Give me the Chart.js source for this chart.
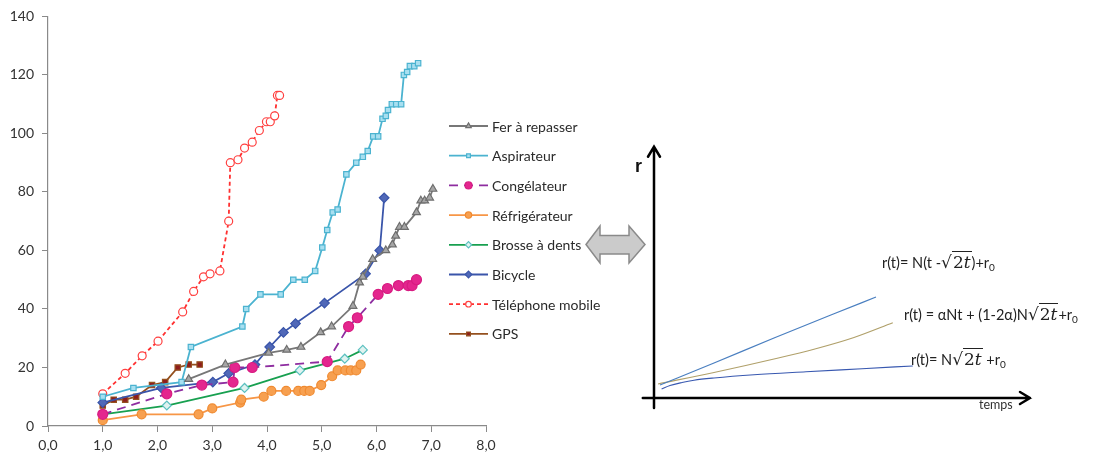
<!DOCTYPE html>
<html>
<head>
<meta charset="utf-8">
<script src="https://cdn.jsdelivr.net/npm/chart.js@4.4.1/dist/chart.umd.min.js"></script>
<style>
  body { margin:0; background:#fff; width:1093px; height:457px; overflow:hidden; position:relative; font-family:Lato, sans-serif; }
  #wl { position:absolute; left:0; top:0; width:620px; height:457px; }
  #wr { position:absolute; left:580px; top:140px; width:513px; height:280px; }
  .f { position:absolute; font-size:14.5px; color:#222; white-space:nowrap; line-height:18px; }
  .sq { font-family:"DejaVu Serif", serif; font-size:17px; }
  .ov { border-top:1.4px solid #222; font-family:"DejaVu Serif", serif; font-size:17px; padding:0 1px; }
  .ov i { font-style:italic; }
  sub { font-size:10px; vertical-align:-3px; }
  #rl { position:absolute; left:635px; top:156px; font:bold 18px "Liberation Sans", Arial, sans-serif; color:#111; }
  #tl { position:absolute; left:979px; top:397px; font-size:12.5px; color:#333; }
</style>
</head>
<body>
<div id="wl"><canvas id="c1"></canvas></div>
<div id="wr"><canvas id="c2"></canvas></div>
<div id="rl">r</div>
<div id="tl">temps</div>
<div class="f" style="left:882px;top:253px">r(t)= N(t -<span class="sq">√</span><span class="ov">2<i>t</i></span>)+r<sub>0</sub></div>
<div class="f" style="left:904px;top:305px">r(t) = αNt + (1-2α)N<span class="sq">√</span><span class="ov">2<i>t</i></span>+r<sub>0</sub></div>
<div class="f" style="left:911px;top:350px">r(t)= N<span class="sq">√</span><span class="ov">2<i>t</i></span> +r<sub>0</sub></div>
<script>
// series names (legend order)
const names = ['Fer à repasser','Aspirateur','Congélateur','Réfrigérateur','Brosse à dents','Bicycle','Téléphone mobile','GPS'];

// [x, y]
const fer = [[2.57,16],[3.24,21],[4.03,25],[4.36,26],[4.62,27],[4.98,32],[5.18,34],[5.57,41],[5.69,49],[5.75,51],[5.93,57],[6.17,60],[6.29,62],[6.35,65],[6.42,68],[6.51,68],[6.73,73],[6.81,77],[6.88,77],[6.97,78],[7.03,81]];
const aspirateur = [[1.0,10],[1.56,13],[2.44,15],[2.61,27],[3.55,34],[3.62,40],[3.88,45],[4.25,45],[4.48,50],[4.69,50],[4.88,53],[5.01,61],[5.10,67],[5.20,73],[5.29,74],[5.45,86],[5.63,90],[5.75,92],[5.84,94],[5.94,99],[6.03,99],[6.11,105],[6.17,106],[6.21,108],[6.28,110],[6.36,110],[6.45,110],[6.50,120],[6.56,121],[6.61,123],[6.69,123],[6.76,124]];
const congelateur = [[1.0,4],[2.17,11],[2.81,14],[3.38,15],[3.41,20],[3.73,20],[5.10,22],[5.49,34],[5.65,37],[6.03,45],[6.20,47],[6.40,48],[6.58,48],[6.65,48],[6.73,50]];
const refrigerateur = [[1.0,2],[1.71,4],[2.75,4],[3.0,6],[3.51,8],[3.53,9],[3.94,10],[4.08,12],[4.35,12],[4.57,12],[4.68,12],[4.78,12],[4.99,14],[5.19,17],[5.29,19],[5.43,19],[5.53,19],[5.63,19],[5.71,21]];
const brosse = [[1.0,4],[2.17,7],[3.59,13],[4.60,19],[5.42,23],[5.75,26]];
const bicycle = [[1.0,8],[2.07,13],[3.01,15],[3.30,18],[3.78,21],[4.05,27],[4.30,32],[4.52,35],[5.05,42],[5.80,52],[6.06,60],[6.14,78]];
const telephone = [[1.0,11],[1.41,18],[1.72,24],[2.01,29],[2.46,39],[2.66,46],[2.84,51],[2.96,52],[3.14,53],[3.30,70],[3.33,90],[3.47,91],[3.59,95],[3.73,97],[3.86,101],[3.99,104],[4.06,104],[4.14,106],[4.19,113],[4.23,113]];
const gps = [[1.0,7],[1.20,9],[1.41,9],[1.61,10],[1.90,14],[2.14,15],[2.37,20],[2.57,21],[2.77,21]];

// right sketch: curves (t, r)
const curveLin = [[0.15,0.52],[1.5,1.4],[3.0,2.4],[4.5,3.37],[5.55,4.04]];
const curveMix = [[0.1,0.56],[1.5,1.02],[3.0,1.56],[4.0,1.95],[5.0,2.42],[5.97,3.01]];
const curveSqrt = [[0.19,0.36],[0.4,0.5],[0.7,0.62],[1.0,0.71],[1.5,0.8],[2.5,0.93],[3.8,1.05],[5.2,1.17],[6.47,1.28]];

const pts = a => a.map(p => ({x:p[0], y:p[1]}));

function ser(label, data, line, fill, stroke, style, r, dash) {
  return {
    label, data: pts(data), showLine:true, tension:0,
    borderColor:line, borderWidth:1.8, borderDash:dash || [],
    pointStyle:style, pointRadius:r, pointBackgroundColor:fill,
    pointBorderColor:stroke, pointBorderWidth:1.2
  };
}

const sets = [
  ser(names[0], fer, '#777777', '#a6a6a6', '#6e6e6e', 'triangle', 4.5),
  ser(names[1], aspirateur, '#4bb3d0', '#a8dff0', '#4bb3d0', 'rect', 3.8),
  ser(names[2], congelateur, '#8e2da0', '#e4268e', '#d81c82', 'circle', 5, [9,6]),
  ser(names[3], refrigerateur, '#f79646', '#f7a050', '#f08a30', 'circle', 4.5),
  ser(names[4], brosse, '#18a050', '#dff3f0', '#5cc0c0', 'rectRot', 4.5),
  ser(names[5], bicycle, '#3a55aa', '#5068b8', '#3a55aa', 'rectRot', 4.8),
  ser(names[6], telephone, '#ff3030', '#ffffff', '#ff4040', 'circle', 4, [4,3]),
  ser(names[7], gps, '#94501e', '#8e1c1c', '#94501e', 'rect', 3.8)
];

const sideLegend = {
  id:'sideLegend',
  afterDraw(chart) {
    const ctx = chart.ctx;
    chart.data.datasets.forEach((ds, i) => {
      const y = 126 + i * 29.7;
      ctx.save();
      ctx.strokeStyle = ds.borderColor;
      ctx.lineWidth = ds.borderWidth;
      ctx.setLineDash(ds.borderDash);
      ctx.beginPath(); ctx.moveTo(449, y); ctx.lineTo(488, y); ctx.stroke();
      ctx.setLineDash([]);
      ctx.fillStyle = ds.pointBackgroundColor;
      ctx.strokeStyle = ds.pointBorderColor;
      ctx.lineWidth = 1.2;
      Chart.helpers.drawPoint(ctx, {pointStyle:ds.pointStyle, radius:ds.pointRadius * 0.7, borderWidth:1.2, rotation:0}, 468.5, y);
      ctx.fillStyle = '#2a2a2a';
      ctx.font = '14px Lato';
      ctx.textBaseline = 'middle';
      ctx.fillText(ds.label, 492, y + 1);
      ctx.restore();
    });
  }
};

new Chart(document.getElementById('c1'), {
  type:'scatter',
  data:{ datasets:sets },
  options:{
    responsive:true, maintainAspectRatio:false, animation:false,
    layout:{ padding:{ top:14, right:134, bottom:0, left:0 } },
    plugins:{ legend:{display:false}, tooltip:{enabled:false} },
    scales:{
      x:{
        min:0, max:8,
        ticks:{ stepSize:1, color:'#333', font:{family:'Lato', size:14}, padding:5,
          callback:v => v.toFixed(1).replace('.', ',') },
        grid:{ drawOnChartArea:false, drawTicks:true, tickLength:6, color:'#8a8a8a' },
        border:{ color:'#8a8a8a', width:1.2 },
        afterFit:s => { s.height = 31; }
      },
      y:{
        min:0, max:140,
        ticks:{ stepSize:20, color:'#333', font:{family:'Lato', size:14}, padding:8 },
        grid:{ drawOnChartArea:false, drawTicks:true, tickLength:6, color:'#8a8a8a' },
        border:{ color:'#8a8a8a', width:1.2 },
        afterFit:s => { s.width = 48; }
      }
    }
  },
  plugins:[sideLegend]
});

const sketch = {
  id:'sketch',
  beforeDatasetsDraw(chart) {
    const ctx = chart.ctx, sx = chart.scales.x, sy = chart.scales.y;
    const x0 = sx.getPixelForValue(0), y0 = sy.getPixelForValue(0);
    ctx.save();
    // double arrow between the two panels
    const o = [-580, -140];
    const poly = [[586,244.5],[600,226],[600,235.5],[629,235.5],[629,226],[645,244.5],[629,263],[629,254],[600,254],[600,263]];
    ctx.beginPath();
    poly.forEach((p, i) => i ? ctx.lineTo(p[0] + o[0], p[1] + o[1]) : ctx.moveTo(p[0] + o[0], p[1] + o[1]));
    ctx.closePath();
    ctx.fillStyle = '#cbcbcb'; ctx.fill();
    ctx.strokeStyle = '#8a8a8a'; ctx.lineWidth = 1.5; ctx.stroke();
    // axes with arrow heads
    ctx.strokeStyle = '#000'; ctx.lineWidth = 2.5; ctx.lineCap = 'round';
    const top = sy.getPixelForValue(10.05), right = sx.getPixelForValue(9.4);
    ctx.beginPath();
    ctx.moveTo(x0, y0 + 10); ctx.lineTo(x0, top);
    ctx.moveTo(x0 - 6, top + 10); ctx.lineTo(x0, top); ctx.lineTo(x0 + 6, top + 10);
    ctx.moveTo(sx.getPixelForValue(-0.28), y0); ctx.lineTo(right, y0);
    ctx.moveTo(right - 10, y0 - 6); ctx.lineTo(right, y0); ctx.lineTo(right - 10, y0 + 6);
    ctx.stroke();
    ctx.restore();
  }
};

new Chart(document.getElementById('c2'), {
  type:'scatter',
  data:{ datasets:[
    { data:pts(curveLin), showLine:true, borderColor:'#4a7fc0', borderWidth:1.2, pointRadius:0, cubicInterpolationMode:'monotone' },
    { data:pts(curveMix), showLine:true, borderColor:'#b0a06a', borderWidth:1.2, pointRadius:0, cubicInterpolationMode:'monotone' },
    { data:pts(curveSqrt), showLine:true, borderColor:'#3858b0', borderWidth:1.2, pointRadius:0, cubicInterpolationMode:'monotone' }
  ]},
  options:{
    responsive:true, maintainAspectRatio:false, animation:false,
    layout:{ padding:0 },
    plugins:{ legend:{display:false}, tooltip:{enabled:false} },
    scales:{
      x:{ display:false, min:-1.85, max:10.975 },
      y:{ display:false, min:-0.88, max:10.32 }
    }
  },
  plugins:[sketch]
});
</script>
</body>
</html>
